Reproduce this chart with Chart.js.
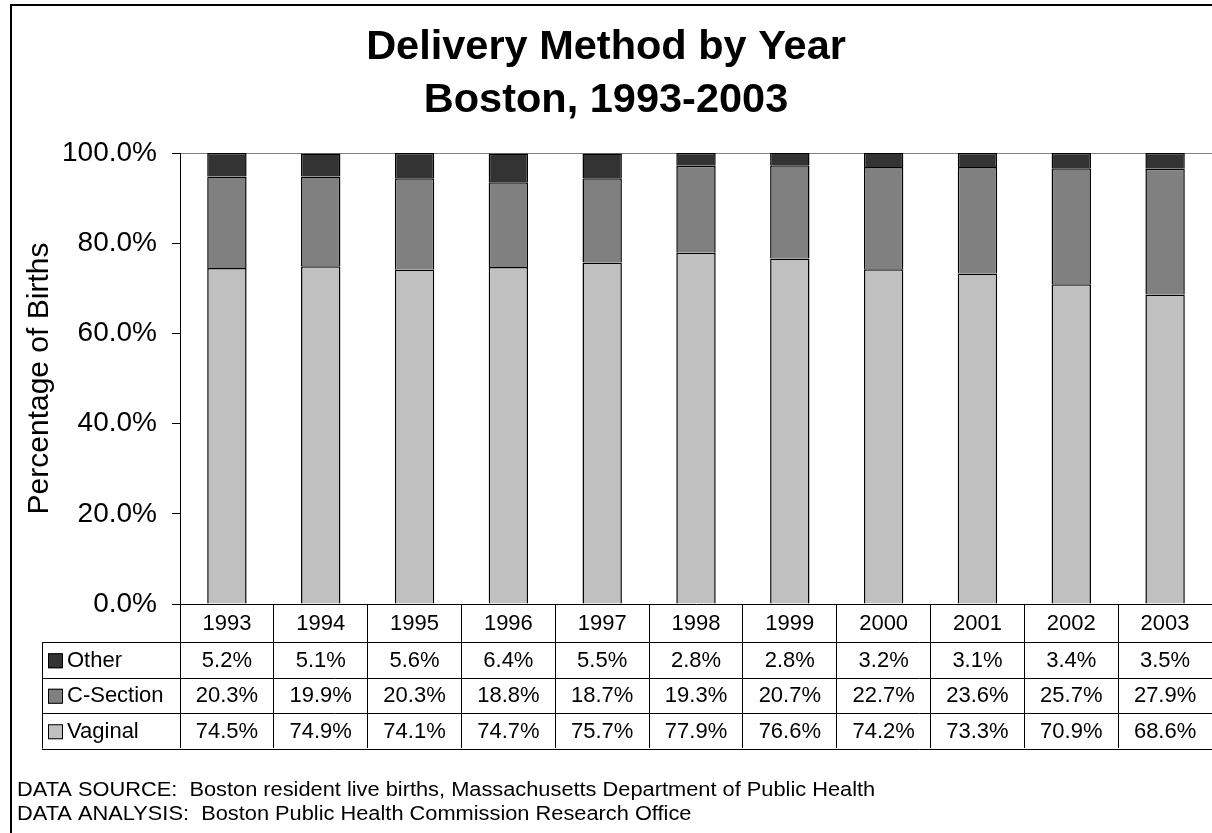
<!DOCTYPE html>
<html lang="en">
<head>
  <meta charset="UTF-8" />
  <title>Delivery Method by Year</title>
  <script src="https://cdn.jsdelivr.net/npm/chart.js"></script>
  <style>
    html, body { margin: 0; padding: 0; background: #fff; }
    canvas { display: block; }
  </style>
</head>
<body>
  <canvas id="chart" width="1212" height="833"></canvas>
  <script>
    const FONT = '"Liberation Sans", Arial, sans-serif';

    const years = ['1993', '1994', '1995', '1996', '1997', '1998', '1999', '2000', '2001', '2002', '2003'];
    const other = [5.2, 5.1, 5.6, 6.4, 5.5, 2.8, 2.8, 3.2, 3.1, 3.4, 3.5];
    const cSection = [20.3, 19.9, 20.3, 18.8, 18.7, 19.3, 20.7, 22.7, 23.6, 25.7, 27.9];
    const vaginal = [74.5, 74.9, 74.1, 74.7, 75.7, 77.9, 76.6, 74.2, 73.3, 70.9, 68.6];
    const yTicks = [0, 20, 40, 60, 80, 100];

    const titleLines = ['Delivery Method by Year', 'Boston, 1993-2003'];
    const footerLines = [
      'DATA SOURCE:  Boston resident live births, Massachusetts Department of Public Health',
      'DATA ANALYSIS:  Boston Public Health Commission Research Office'
    ];

    // rows of the data table, top to bottom
    const tableRows = [
      { label: 'Other', values: other, color: '#333333' },
      { label: 'C-Section', values: cSection, color: '#808080' },
      { label: 'Vaginal', values: vaginal, color: '#c0c0c0' }
    ];

    const frame = {
      id: 'frame',
      beforeDraw(chart) {
        const ctx = chart.ctx;
        ctx.save();
        ctx.fillStyle = '#fff';
        ctx.fillRect(0, 0, chart.width, chart.height);
        ctx.strokeStyle = '#000';
        ctx.lineWidth = 2;
        ctx.beginPath();
        ctx.moveTo(11, chart.height);
        ctx.lineTo(11, 5);
        ctx.lineTo(chart.width, 5);
        ctx.stroke();

        ctx.fillStyle = '#000';
        ctx.textAlign = 'center';
        ctx.textBaseline = 'middle';
        ctx.font = 'bold 41.5px ' + FONT;
        ctx.fillText(titleLines[0], chart.width / 2, 48);
        ctx.fillText(titleLines[1], chart.width / 2, 101);

        // footer text is a little wider than plain Arial in the source
        ctx.textAlign = 'left';
        ctx.textBaseline = 'alphabetic';
        ctx.font = '20px ' + FONT;
        ctx.translate(17, 0);
        ctx.scale(1.09, 1);
        ctx.fillText(footerLines[0], 0, 796);
        ctx.fillText(footerLines[1], 0, 820);
        ctx.restore();
      }
    };

    const dataTable = {
      id: 'dataTable',
      afterDraw(chart) {
        const ctx = chart.ctx;
        const x = chart.scales.x;
        const area = chart.chartArea;
        const rowH = 35.5;
        const top = area.bottom;
        const rowsTop = top + 38;
        const bottom = rowsTop + rowH * tableRows.length;
        const left = 42;

        ctx.save();
        ctx.strokeStyle = '#000';
        ctx.lineWidth = 1;
        ctx.beginPath();
        for (let i = 0; i <= tableRows.length; i++) {
          const y = Math.round(rowsTop + rowH * i) + 0.5;
          ctx.moveTo(left, y);
          ctx.lineTo(chart.width, y);
        }
        ctx.moveTo(left + 0.5, rowsTop);
        ctx.lineTo(left + 0.5, bottom);
        ctx.stroke();

        ctx.fillStyle = '#000';
        ctx.font = '22px ' + FONT;
        ctx.textAlign = 'center';
        ctx.textBaseline = 'middle';
        years.forEach((yr, i) => {
          ctx.fillText(yr, x.getPixelForValue(i), (top + rowsTop) / 2 + 1);
        });

        tableRows.forEach((row, r) => {
          const cy = rowsTop + rowH * r + rowH / 2 + 1;
          ctx.fillStyle = row.color;
          ctx.fillRect(48, cy - 7.5, 14, 15);
          ctx.strokeStyle = '#000';
          ctx.strokeRect(48.5, cy - 7, 14, 14);
          ctx.fillStyle = '#000';
          ctx.textAlign = 'left';
          ctx.fillText(row.label, 67, cy);
          ctx.textAlign = 'center';
          row.values.forEach((v, i) => {
            ctx.fillText(v.toFixed(1) + '%', x.getPixelForValue(i), cy);
          });
        });
        ctx.restore();
      }
    };

    const barStyle = { borderColor: '#000', borderWidth: 1.5, barPercentage: 0.42, categoryPercentage: 1 };

    new Chart(document.getElementById('chart'), {
      type: 'bar',
      data: {
        labels: years,
        datasets: [
          { label: 'Vaginal', data: vaginal, backgroundColor: '#c0c0c0', ...barStyle },
          { label: 'C-Section', data: cSection, backgroundColor: '#808080', ...barStyle },
          { label: 'Other', data: other, backgroundColor: '#333333', ...barStyle }
        ]
      },
      options: {
        responsive: false,
        animation: false,
        layout: { padding: { top: 153, left: 0, right: 0, bottom: 0 } },
        plugins: {
          legend: { display: false },
          tooltip: { enabled: false }
        },
        scales: {
          x: {
            stacked: true,
            offset: true,
            afterFit(scale) { scale.height = 229; },
            border: { color: '#000', width: 1 },
            grid: {
              offset: true,
              drawOnChartArea: false,
              tickLength: 144,
              color: '#000'
            },
            ticks: { display: false }
          },
          y: {
            stacked: true,
            min: 0,
            max: 100,
            afterFit(scale) { scale.width = 180; },
            afterBuildTicks(scale) { scale.ticks = yTicks.map(v => ({ value: v })); },
            border: { color: '#000', width: 1 },
            grid: {
              color: c => (c.tick && c.tick.value === 100 ? '#808080' : 'rgba(0,0,0,0)'),
              tickColor: '#000',
              tickLength: 8
            },
            ticks: {
              color: '#000',
              padding: 15,
              font: { family: FONT, size: 28 },
              callback: v => v.toFixed(1) + '%'
            },
            title: {
              display: true,
              text: 'Percentage of Births',
              color: '#000',
              font: { family: FONT, size: 30 },
              padding: { top: 22, bottom: 0 }
            }
          }
        }
      },
      plugins: [frame, dataTable]
    });
  </script>
</body>
</html>
